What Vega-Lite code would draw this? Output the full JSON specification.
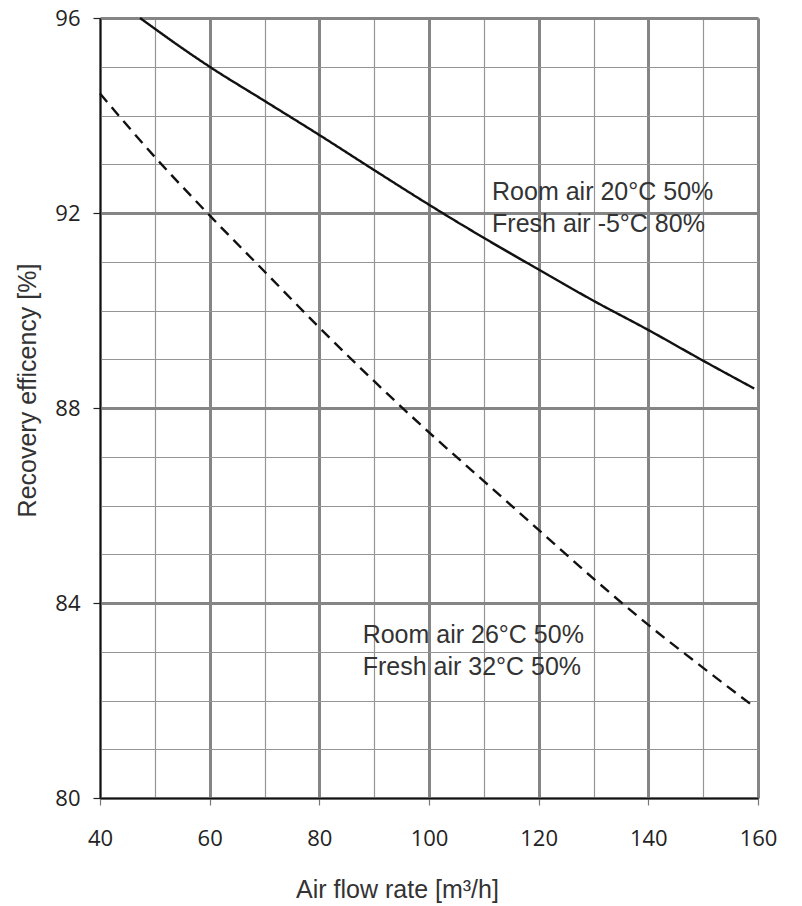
{
  "$schema": "https://vega.github.io/schema/vega-lite/v6.json",
  "width": 658,
  "height": 780,
  "autosize": "none",
  "padding": {"left": 100, "top": 18, "right": 44, "bottom": 108},
  "background": "white",
  "config": {"view": {"stroke": null}},
  "datasets": {
    "curves": [
      {"flow": 47.3, "eff": 96.0, "case": "winter"},
      {"flow": 50, "eff": 95.78, "case": "winter"},
      {"flow": 55, "eff": 95.38, "case": "winter"},
      {"flow": 60, "eff": 95.0, "case": "winter"},
      {"flow": 70, "eff": 94.3, "case": "winter"},
      {"flow": 80, "eff": 93.6, "case": "winter"},
      {"flow": 90, "eff": 92.88, "case": "winter"},
      {"flow": 100, "eff": 92.17, "case": "winter"},
      {"flow": 110, "eff": 91.49, "case": "winter"},
      {"flow": 120, "eff": 90.84, "case": "winter"},
      {"flow": 130, "eff": 90.2, "case": "winter"},
      {"flow": 140, "eff": 89.6, "case": "winter"},
      {"flow": 150, "eff": 88.97, "case": "winter"},
      {"flow": 159.3, "eff": 88.4, "case": "winter"},
      {"flow": 40, "eff": 94.45, "case": "summer"},
      {"flow": 50, "eff": 93.15, "case": "summer"},
      {"flow": 60, "eff": 91.95, "case": "summer"},
      {"flow": 70, "eff": 90.8, "case": "summer"},
      {"flow": 80, "eff": 89.65, "case": "summer"},
      {"flow": 90, "eff": 88.55, "case": "summer"},
      {"flow": 100, "eff": 87.5, "case": "summer"},
      {"flow": 110, "eff": 86.5, "case": "summer"},
      {"flow": 120, "eff": 85.5, "case": "summer"},
      {"flow": 130, "eff": 84.5, "case": "summer"},
      {"flow": 140, "eff": 83.55, "case": "summer"},
      {"flow": 150, "eff": 82.67, "case": "summer"},
      {"flow": 159.3, "eff": 81.87, "case": "summer"}
    ],
    "notes": [
      {"flow": 111.5, "eff": 92.27, "label": "Room air 20°C 50%"},
      {"flow": 111.5, "eff": 91.61, "label": "Fresh air -5°C 80%"},
      {"flow": 87.9, "eff": 83.18, "label": "Room air 26°C 50%"},
      {"flow": 87.9, "eff": 82.53, "label": "Fresh air 32°C 50%"}
    ]
  },
  "encoding": {
    "x": {
      "field": "flow", "type": "quantitative",
      "scale": {"domain": [40, 160], "nice": false, "zero": false},
      "axis": {
        "title": "Air flow rate [m³/h]",
        "values": [40, 50, 60, 70, 80, 90, 100, 110, 120, 130, 140, 150, 160],
        "labelExpr": "datum.value % 20 === 0 ? datum.label : ''",
        "labelFont": "Open Sans", "labelFontSize": 22, "labelColor": "#222",
        "labelBaseline": "alphabetic", "labelPadding": 40, "labelFlush": false, "labelOverlap": false,
        "grid": true,
        "gridColor": {"condition": {"test": "datum.value % 20 === 0", "value": "#858585"}, "value": "#959595"},
        "gridWidth": {"condition": {"test": "datum.value % 20 === 0", "value": 3}, "value": 1.2},
        "tickSize": 7, "tickColor": "#777", "tickWidth": 1.2,
        "tickOpacity": {"condition": {"test": "datum.value % 20 === 0", "value": 1}, "value": 0},
        "domainColor": "#111", "domainWidth": 1.5,
        "titleFont": "Liberation Sans", "titleFontSize": 25, "titleFontWeight": "normal", "titleColor": "#333",
        "titleX": 297, "titleY": 99, "titleBaseline": "alphabetic"
      }
    },
    "y": {
      "field": "eff", "type": "quantitative",
      "scale": {"domain": [80, 96], "nice": false, "zero": false},
      "axis": {
        "title": "Recovery efficency [%]",
        "values": [80, 81, 82, 83, 84, 85, 86, 87, 88, 89, 90, 91, 92, 93, 94, 95, 96],
        "labelExpr": "datum.value % 4 === 0 ? datum.label : ''",
        "labelFont": "Open Sans", "labelFontSize": 22, "labelColor": "#222",
        "labelPadding": 13, "labelFlush": false, "labelOverlap": false,
        "grid": true,
        "gridColor": {"condition": {"test": "datum.value % 4 === 0", "value": "#858585"}, "value": "#959595"},
        "gridWidth": {"condition": {"test": "datum.value % 4 === 0", "value": 3}, "value": 1.2},
        "tickSize": 7, "tickColor": "#222", "tickWidth": 1.2,
        "tickOpacity": {"condition": {"test": "datum.value % 4 === 0", "value": 1}, "value": 0},
        "domainColor": "#111", "domainWidth": 1.5,
        "titleFont": "Liberation Sans", "titleFontSize": 25, "titleFontWeight": "normal", "titleColor": "#333",
        "titleX": -60, "titleY": 372
      }
    }
  },
  "layer": [
    {
      "data": {"name": "curves"},
      "mark": {"type": "line", "color": "#111", "strokeWidth": 2.4, "interpolate": "monotone"},
      "encoding": {
        "detail": {"field": "case"},
        "strokeDash": {
          "field": "case", "type": "nominal",
          "scale": {"domain": ["winter", "summer"], "range": [[1, 0], [11, 7]]},
          "legend": null
        }
      }
    },
    {
      "data": {"name": "notes"},
      "mark": {"type": "text", "align": "left", "baseline": "alphabetic", "font": "Liberation Sans", "fontSize": 25, "color": "#333"},
      "encoding": {"text": {"field": "label"}}
    }
  ]
}
